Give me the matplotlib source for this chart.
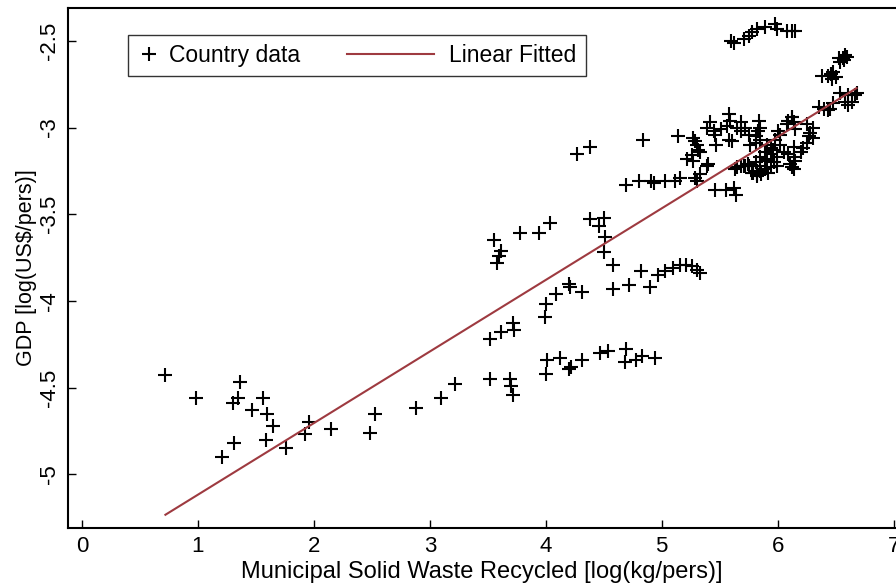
import numpy as np
import matplotlib
matplotlib.use("Agg")
import matplotlib.pyplot as plt
from matplotlib.legend_handler import HandlerLine2D

plt.rcParams['font.family'] = ['Liberation Sans', 'DejaVu Sans']

# recycled MSW [log(kg/pers)] vs GDP [log(US$/pers)]
x_low = [0.72, 0.98, 1.36, 1.35, 1.30, 1.56, 1.47, 1.60, 1.65, 1.31, 1.59, 1.21,
         1.76, 1.92, 1.96, 2.15, 2.48, 2.53, 2.88, 3.10, 3.22]
y_low = [-4.43, -4.56, -4.47, -4.56, -4.59, -4.56, -4.63, -4.65, -4.72, -4.82, -4.80, -4.90,
         -4.85, -4.77, -4.70, -4.74, -4.76, -4.65, -4.62, -4.56, -4.48]

x_band1 = [3.52, 3.69, 3.70, 3.72, 4.00, 4.01, 4.12, 4.22, 4.20, 4.31, 4.47, 4.54,
           4.69, 4.68, 4.78, 4.83, 4.94]
y_band1 = [-4.45, -4.45, -4.49, -4.54, -4.42, -4.34, -4.33, -4.38, -4.39, -4.34, -4.30, -4.29,
           -4.28, -4.35, -4.34, -4.32, -4.33]

x_band2 = [3.52, 3.61, 3.72, 3.73, 4.00, 3.99, 4.09, 4.20, 4.21, 4.31, 4.58, 4.72,
           4.90, 4.82, 4.97, 5.03, 5.10, 5.16, 5.21, 5.26, 5.30, 5.33]
y_band2 = [-4.22, -4.18, -4.13, -4.17, -4.02, -4.09, -3.96, -3.90, -3.92, -3.95, -3.93, -3.91,
           -3.92, -3.83, -3.85, -3.83, -3.81, -3.79, -3.79, -3.80, -3.82, -3.84]

x_band3 = [3.55, 3.61, 3.60, 3.58, 3.78, 3.94, 4.04, 4.38, 4.50, 4.46, 4.51, 4.50, 4.58]
y_band3 = [-3.65, -3.71, -3.74, -3.78, -3.61, -3.61, -3.55, -3.53, -3.52, -3.57, -3.63, -3.72, -3.79]

x_band4 = [4.27, 4.38, 4.84, 4.69, 4.80, 4.91, 4.93, 5.03, 5.11, 5.16, 5.29, 5.30,
           5.14, 5.27, 5.30, 5.31, 5.26, 5.22, 5.27, 5.40, 5.33, 5.46, 5.55, 5.62, 5.64,
           5.29, 5.33, 5.39]
y_band4 = [-3.15, -3.11, -3.07, -3.33, -3.31, -3.31, -3.32, -3.31, -3.31, -3.29, -3.29, -3.31,
           -3.05, -3.06, -3.10, -3.13, -3.16, -3.18, -3.19, -3.21, -3.27, -3.36, -3.36, -3.35, -3.39,
           -3.08, -3.14, -3.22]

x_arc = [5.60, 5.62, 5.71, 5.75, 5.78, 5.82, 5.89, 5.98, 5.99, 6.08, 6.12, 6.15]
y_arc = [-2.50, -2.51, -2.49, -2.47, -2.45, -2.43, -2.42, -2.40, -2.43, -2.44, -2.44, -2.44]

x_top = [6.56, 6.58, 6.54, 6.60, 6.53, 6.57, 6.48, 6.43, 6.38, 6.50, 6.46, 6.47,
         6.40, 6.43, 6.45, 6.48, 6.54, 6.61, 6.64, 6.61, 6.67, 6.68, 6.58, 6.36, 6.12]
y_top = [-2.60, -2.58, -2.62, -2.59, -2.60, -2.61, -2.68, -2.70, -2.70, -2.71, -2.69, -2.72,
         -2.89, -2.90, -2.89, -2.86, -2.80, -2.81, -2.85, -2.87, -2.81, -2.80, -2.85, -2.88, -2.94]

x_core = [5.42, 5.39, 5.45, 5.51, 5.56, 5.46, 5.47, 5.58, 5.61, 5.58, 5.59, 5.68, 5.72, 5.65,
          5.68, 5.75, 5.84, 5.85, 5.83, 5.81, 5.85, 5.81, 5.76, 5.91, 5.94, 5.98, 6.02, 5.89,
          5.94, 5.85, 5.91, 5.97, 5.99, 5.85, 5.89, 5.94, 5.99, 5.92, 5.82, 5.79, 5.82, 5.86,
          5.68, 5.72, 5.75, 5.63, 6.05, 6.09, 6.14, 6.15, 6.12, 6.14, 6.09, 6.12, 6.14, 6.08,
          6.15, 6.25, 6.30, 6.28, 6.30, 6.25, 6.22, 6.20, 6.27, 6.11, 6.14, 5.78, 5.82, 5.85,
          5.74, 5.71, 5.65, 5.81, 5.90, 5.96, 6.02, 6.00]
y_core = [-2.97, -3.00, -3.02, -3.01, -2.99, -3.04, -3.10, -3.07, -3.08, -2.92, -2.96, -2.97, -3.00, -3.00,
          -3.02, -3.04, -2.96, -3.00, -3.02, -3.05, -3.07, -3.09, -3.10, -3.10, -3.12, -3.07, -3.04, -3.14,
          -3.15, -3.17, -3.19, -3.20, -3.17, -3.22, -3.24, -3.23, -3.22, -3.26, -3.25, -3.26, -3.28, -3.27,
          -3.22, -3.22, -3.22, -3.24, -3.14, -3.15, -3.17, -3.19, -3.23, -3.11, -2.96, -2.94, -2.97, -2.98,
          -3.01, -2.98, -3.00, -3.03, -3.06, -3.09, -3.12, -3.14, -3.05, -3.21, -3.24, -3.26, -3.27, -3.25,
          -3.21, -3.22, -3.23, -3.20, -3.18, -3.13, -3.10, -3.02]

# fitted line
fit_slope = 0.413
fit_intercept = -5.531


class LongLineHandler(HandlerLine2D):
    # legend line that runs further left than its (short) handle box
    def get_xdata(self, legend, xdescent, ydescent, width, height, fontsize):
        xd = np.array([-xdescent - 3.05 * width, -xdescent + 0.75 * width])
        return xd, xd


x = np.array(x_low + x_band1 + x_band2 + x_band3 + x_band4 + x_arc + x_top + x_core)
y = np.array(y_low + y_band1 + y_band2 + y_band3 + y_band4 + y_arc + y_top + y_core)

fig = plt.figure(figsize=(8.96, 5.86), dpi=100)
ax = fig.add_axes([0.0759, 0.099, 0.9241, 0.8874])

pts, = ax.plot(x, y, linestyle='none', marker='+', color='black', markersize=10,
               markeredgewidth=1.5, label='Country data')
xf = np.array([x.min(), x.max()])
fit, = ax.plot(xf, fit_slope * xf + fit_intercept, color='#9e3a40', linewidth=1.5,
               label='Linear Fitted')

ax.set_xlim(-0.12, 7.02)
ax.set_ylim(-5.31, -2.31)
ax.set_xticks(range(0, 8))
ax.set_yticks([-5, -4.5, -4, -3.5, -3, -2.5])
ax.set_yticklabels(['-5', '-4.5', '-4', '-3.5', '-3', '-2.5'], rotation=90, va='center')
ax.tick_params(direction='in', length=6, width=1, labelsize=16, pad=6)
ax.spines['right'].set_visible(False)
for s in ['left', 'bottom', 'top']:
    ax.spines[s].set_linewidth(1.5)

ax.set_xlabel('Municipal Solid Waste Recycled [log(kg/pers)]', fontsize=17, labelpad=3)
ax.set_ylabel('GDP [log(US$/pers)]', fontsize=15.5, labelpad=1)

leg = ax.legend(handles=[pts, fit], loc='upper left', bbox_to_anchor=(0.0725, 0.948),
                ncol=2, fontsize=16.5, frameon=True, fancybox=False, edgecolor='black',
                borderaxespad=0, handlelength=1.0, handletextpad=0.4, columnspacing=5.1,
                borderpad=0.4, handler_map={fit: LongLineHandler()})
leg.get_frame().set_linewidth(1.0)

fig.savefig('out.png', dpi=100)
